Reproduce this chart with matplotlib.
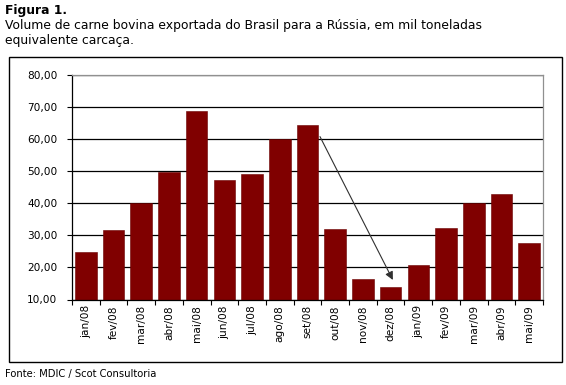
import matplotlib
matplotlib.use("Agg")
import matplotlib.pyplot as plt
import numpy as np
from matplotlib.patches import Rectangle

# dados: exportações de carne bovina Brasil -> Rússia (mil t eq. carcaça)
meses = ["jan/08", "fev/08", "mar/08", "abr/08", "mai/08", "jun/08",
         "jul/08", "ago/08", "set/08", "out/08", "nov/08", "dez/08",
         "jan/09", "fev/09", "mar/09", "abr/09", "mai/09"]
volume = [24.8, 31.7, 40.0, 49.9, 68.7, 47.3,
          49.1, 60.0, 64.4, 31.9, 16.3, 13.8,
          20.7, 32.2, 40.0, 42.9, 27.6]
y_ticks = [10, 20, 30, 40, 50, 60, 70, 80]

plt.rcParams["font.family"] = ["DejaVu Sans"]

fig = plt.figure(figsize=(5.66, 3.85), dpi=100)

# textos
fig.text(5 / 566, 1 - 4 / 385, "Figura 1.", fontsize=8.9, fontweight="bold",
         va="top", ha="left")
fig.text(5 / 566, 1 - 19 / 385,
         "Volume de carne bovina exportada do Brasil para a Rússia, em mil toneladas\n"
         "equivalente carcaça.",
         fontsize=8.9, va="top", ha="left", linespacing=1.2)
fig.text(5 / 566, 1 - 369 / 385, "Fonte: MDIC / Scot Consultoria",
         fontsize=7.2, va="top", ha="left")

# moldura do gráfico
fig.patches.append(Rectangle((9 / 566, 1 - 362 / 385), 553 / 566, 305 / 385,
                             transform=fig.transFigure, fill=False,
                             edgecolor="black", linewidth=1.0))

axes = fig.add_axes([72 / 566, 1 - 299.5 / 385, 471 / 566, 224.5 / 385])
x = np.arange(len(meses))
axes.bar(x, volume, width=0.78, color="#800000", bottom=0,
         edgecolor="#6a0000", linewidth=0.4, zorder=2)

axes.set_xlim(-0.5, len(meses) - 0.5)
axes.set_ylim(10, 80)
axes.set_yticks(y_ticks)
axes.set_yticklabels([f"{v:.2f}".replace(".", ",") for v in y_ticks],
                     fontsize=7.6)
axes.set_xticks(x)
axes.set_xticklabels(meses, rotation=90, fontsize=7.6)
axes.set_xticks(np.arange(len(meses) + 1) - 0.5, minor=True)
axes.tick_params(axis="x", which="major", length=0, pad=4)
axes.tick_params(axis="x", which="minor", length=3.6, width=0.8, direction="out")
axes.tick_params(axis="y", length=3.6, width=0.8, direction="out", pad=7)

axes.set_axisbelow(True)
axes.grid(axis="y", color="black", linewidth=0.9)
for lado in ["top", "right"]:
    axes.spines[lado].set_color("#909090")
    axes.spines[lado].set_linewidth(0.9)
for lado in ["left", "bottom"]:
    axes.spines[lado].set_color("black")
    axes.spines[lado].set_linewidth(0.9)

# seta da queda set/08 -> dez/08
i_ini, i_fim = meses.index("set/08"), meses.index("dez/08")
axes.annotate("", xy=(i_fim + 0.08, volume[i_fim] + 2.3),
              xytext=(i_ini + 0.45, volume[i_ini] - 3.6),
              arrowprops=dict(arrowstyle="-|>", color="#303030", lw=0.8,
                              mutation_scale=12, shrinkA=0, shrinkB=0))

fig.savefig("out.png", dpi=100)
